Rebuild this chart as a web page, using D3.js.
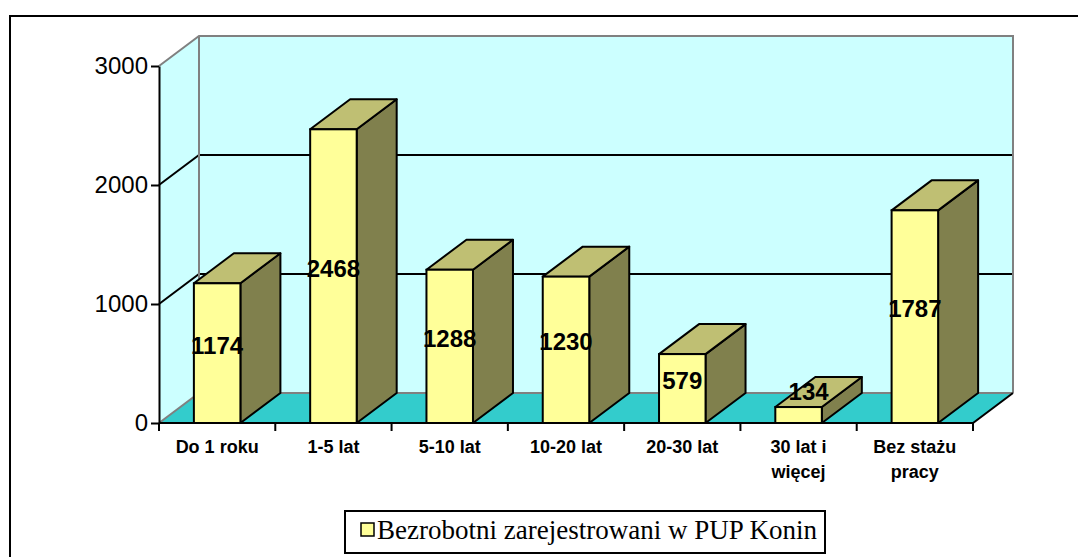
<!DOCTYPE html>
<html>
<head>
<meta charset="utf-8">
<script src="https://cdn.jsdelivr.net/npm/d3@7"></script>
<style>
  body { margin: 0; background: #fff; }
  svg { display: block; }
</style>
</head>
<body>
<div id="chart"></div>
<script>
// data
const categories = ['Do 1 roku', '1-5 lat', '5-10 lat', '10-20 lat', '20-30 lat', '30 lat i więcej', 'Bez stażu pracy'];
const categoryLines = [['Do 1 roku'], ['1-5 lat'], ['5-10 lat'], ['10-20 lat'], ['20-30 lat'], ['30 lat i', 'więcej'], ['Bez stażu', 'pracy']];
const values = [1174, 2468, 1288, 1230, 579, 134, 1787];
const yTicks = [0, 1000, 2000, 3000];
const seriesName = 'Bezrobotni zarejestrowani w PUP Konin';

const width = 1078, height = 557;
const plotLeft = 159, plotRight = 973, plotBottom = 423, plotTop = 66;
const dx = 40, dy = -30; // 3d depth offset

const svg = d3.select('#chart').append('svg')
  .attr('width', width)
  .attr('height', height);

// outer frame (runs off right/bottom)
svg.append('rect')
  .attr('x', 10).attr('y', 16)
  .attr('width', width).attr('height', height)
  .attr('fill', '#fff')
  .attr('stroke', '#000').attr('stroke-width', 2);

const x = d3.scaleBand()
  .domain(categories)
  .range([plotLeft, plotRight])
  .paddingInner(0.6)
  .paddingOuter(0.3);

const y = d3.scaleLinear()
  .domain([0, 3000])
  .range([plotBottom, plotTop]);

const pts = p => p.map(d => d.join(',')).join(' ');

// walls
const yMax = y(3000);
svg.append('polygon') // side wall
  .attr('points', pts([[plotLeft, plotBottom], [plotLeft, yMax], [plotLeft + dx, yMax + dy], [plotLeft + dx, plotBottom + dy]]))
  .attr('fill', '#ccffff');
svg.append('polygon') // back wall
  .attr('points', pts([[plotLeft + dx, plotBottom + dy], [plotLeft + dx, yMax + dy], [plotRight + dx, yMax + dy], [plotRight + dx, plotBottom + dy]]))
  .attr('fill', '#ccffff');

// gridlines
yTicks.filter(t => t > 0 && t < 3000).forEach(t => {
  svg.append('polyline')
    .attr('points', pts([[plotLeft, y(t)], [plotLeft + dx, y(t) + dy], [plotRight + dx, y(t) + dy]]))
    .attr('fill', 'none')
    .attr('stroke', '#000').attr('stroke-width', 2);
});

// gray wall edges
svg.append('polyline')
  .attr('points', pts([[plotLeft, yMax], [plotLeft + dx, yMax + dy], [plotRight + dx, yMax + dy], [plotRight + dx, plotBottom + dy]]))
  .attr('fill', 'none')
  .attr('stroke', '#808080').attr('stroke-width', 2);
svg.append('line')
  .attr('x1', plotLeft + dx).attr('y1', yMax + dy)
  .attr('x2', plotLeft + dx).attr('y2', plotBottom + dy)
  .attr('stroke', '#808080').attr('stroke-width', 2);

// floor
svg.append('polygon')
  .attr('points', pts([[plotLeft, plotBottom], [plotLeft + dx, plotBottom + dy], [plotRight + dx, plotBottom + dy], [plotRight, plotBottom]]))
  .attr('fill', '#33cccc');
svg.append('polyline')
  .attr('points', pts([[plotLeft, plotBottom], [plotLeft + dx, plotBottom + dy], [plotRight + dx, plotBottom + dy]]))
  .attr('fill', 'none')
  .attr('stroke', '#808080').attr('stroke-width', 2);
svg.append('polyline')
  .attr('points', pts([[plotRight + dx, plotBottom + dy], [plotRight, plotBottom], [plotLeft, plotBottom]]))
  .attr('fill', 'none')
  .attr('stroke', '#000').attr('stroke-width', 2);

// bars
const bars = svg.selectAll('.bar')
  .data(values)
  .enter().append('g')
  .attr('class', 'bar');

const bw = x.bandwidth();
bars.append('polygon') // side
  .attr('points', (d, i) => {
    const x0 = x(categories[i]) + bw;
    return pts([[x0, y(d)], [x0 + dx, y(d) + dy], [x0 + dx, plotBottom + dy], [x0, plotBottom]]);
  })
  .attr('fill', '#80804d')
  .attr('stroke', '#000').attr('stroke-width', 2).attr('stroke-linejoin', 'round');
bars.append('polygon') // top
  .attr('points', (d, i) => {
    const x0 = x(categories[i]);
    return pts([[x0, y(d)], [x0 + dx, y(d) + dy], [x0 + bw + dx, y(d) + dy], [x0 + bw, y(d)]]);
  })
  .attr('fill', '#bfbf73')
  .attr('stroke', '#000').attr('stroke-width', 2).attr('stroke-linejoin', 'round');
bars.append('rect') // front
  .attr('x', (d, i) => x(categories[i]))
  .attr('y', d => y(d))
  .attr('width', bw)
  .attr('height', d => plotBottom - y(d))
  .attr('fill', '#ffff99')
  .attr('stroke', '#000').attr('stroke-width', 2);

// value labels
bars.append('text')
  .attr('x', (d, i) => {
    const c = x(categories[i]) + bw / 2;
    return plotBottom - y(d) < 40 ? c + 10 : c;
  })
  .attr('y', d => plotBottom - y(d) < 40 ? y(d) - 15 : y(d / 2) - 8)
  .attr('dy', '0.35em')
  .attr('text-anchor', 'middle')
  .style('font-family', 'Arial, "Liberation Sans", sans-serif')
  .style('font-weight', 'bold')
  .style('font-size', '24px')
  .text(d => d);

// y axis
const yAxis = svg.append('g')
  .attr('transform', `translate(${plotLeft},0)`)
  .call(d3.axisLeft(y).tickValues(yTicks).tickFormat(d3.format('d')).tickSize(8).tickPadding(3).tickSizeOuter(0));
yAxis.select('.domain').attr('stroke-width', 2);
yAxis.selectAll('.tick line').attr('stroke-width', 2);
yAxis.selectAll('text')
  .style('font-family', 'Arial, "Liberation Sans", sans-serif')
  .style('font-size', '24px')
  .attr('fill', '#000');

// x axis ticks at band boundaries
const step = x.step();
d3.range(categories.length + 1).forEach(i => {
  svg.append('line')
    .attr('x1', plotLeft + i * step).attr('x2', plotLeft + i * step)
    .attr('y1', plotBottom).attr('y2', plotBottom + 8)
    .attr('stroke', '#000').attr('stroke-width', 2);
});

const xl = svg.selectAll('.xlabel')
  .data(categories)
  .enter().append('text')
  .attr('class', 'xlabel')
  .attr('y', 447)
  .attr('text-anchor', 'middle')
  .style('font-family', 'Arial, "Liberation Sans", sans-serif')
  .style('font-weight', 'bold')
  .style('font-size', '18px');
xl.each(function (d, i) {
  categoryLines[i].forEach((line, j) => {
    d3.select(this).append('tspan')
      .attr('x', x(d) + bw / 2)
      .attr('dy', j === 0 ? '0.35em' : '25px')
      .text(line);
  });
});

// legend
const legend = svg.append('g');
legend.append('rect')
  .attr('x', 345).attr('y', 511)
  .attr('width', 480).attr('height', 42)
  .attr('fill', '#fff')
  .attr('stroke', '#000').attr('stroke-width', 2);
legend.append('rect')
  .attr('x', 361).attr('y', 523)
  .attr('width', 13).attr('height', 13)
  .attr('fill', '#ffff99')
  .attr('stroke', '#000').attr('stroke-width', 1.5);
legend.append('text')
  .attr('x', 377).attr('y', 530)
  .attr('dy', '0.35em')
  .style('font-family', '"Times New Roman", "Liberation Serif", serif')
  .style('font-size', '27px')
  .text(seriesName);
</script>
</body>
</html>
